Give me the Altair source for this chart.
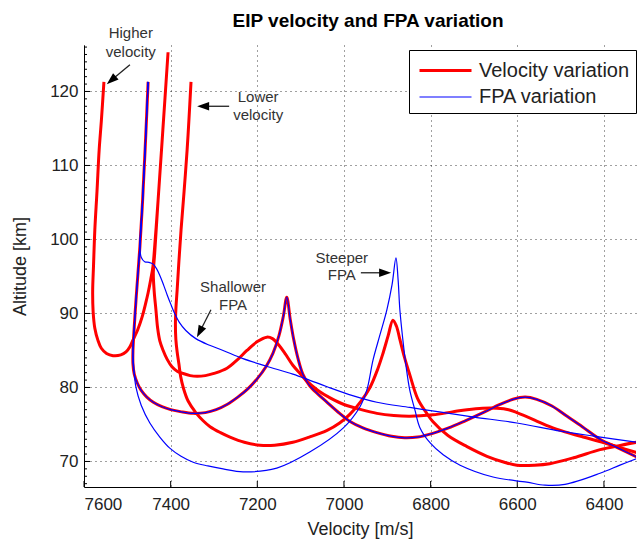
import altair as alt
import pandas as pd

# ---------------- data ----------------
# Velocity variation: higher velocity (skips out to an apogee and re-enters)
hi_v = [7554, 7560, 7565, 7570, 7575, 7578, 7580, 7579, 7575, 7568, 7560, 7548, 7533, 7515, 7503, 7494,
        7487, 7476, 7466, 7458, 7452, 7446, 7441, 7435, 7429, 7418, 7406,
        7418, 7429, 7437, 7440, 7438, 7434, 7430, 7425, 7418, 7408, 7397, 7385, 7372, 7355, 7339, 7320,
        7300, 7270, 7245, 7224, 7200, 7178, 7165, 7150, 7135, 7118, 7100, 7088, 7060, 7032, 7000, 6960,
        6924, 6885, 6848, 6795, 6750, 6716, 6680, 6647, 6620, 6601, 6560, 6525, 6490, 6448, 6410, 6370,
        6324]
hi_a = [121.3, 116.0, 112.1, 106.5, 101.3, 96.5, 93.0, 90.3, 88.0, 86.4, 85.3, 84.6, 84.3, 84.4, 84.8, 85.5,
        86.4, 87.8, 89.5, 91.3, 92.8, 94.6, 96.3, 100.5, 105.3, 114.8, 125.3,
        114.8, 105.3, 98.0, 95.5, 93.0, 90.5, 88.0, 86.3, 85.1, 83.8, 82.8, 82.2, 81.9, 81.6, 81.5, 81.6,
        81.9, 82.6, 83.8, 85.0, 86.2, 86.8, 86.6, 85.7, 84.5, 83.0, 81.8, 81.0, 79.6, 78.6, 77.7, 77.0,
        76.5, 76.2, 76.1, 76.3, 76.7, 77.0, 77.2, 77.2, 77.0, 76.6, 75.6, 74.7, 74.0, 73.3, 72.7, 72.0,
        71.2]

# nominal trajectory (shown in both series)
nom_v = [7452, 7459, 7465, 7471, 7476, 7480, 7484, 7487, 7487, 7484, 7477, 7468, 7455, 7440, 7420, 7400,
         7375, 7348, 7320, 7295, 7270, 7245, 7222, 7200, 7180, 7164, 7150, 7140, 7132, 7124, 7116, 7106,
         7095, 7080, 7060, 7039, 7010, 6986, 6955, 6924, 6890, 6860, 6830, 6795, 6760, 6720, 6679, 6640,
         6610, 6582, 6555, 6520, 6485, 6450, 6409, 6370, 6324]
nom_a = [121.3, 112.1, 105.0, 99.0, 95.0, 91.8, 88.2, 85.0, 83.2, 81.8, 80.6, 79.6, 78.7, 78.0, 77.4, 77.0,
         76.7, 76.5, 76.6, 77.0, 77.7, 78.7, 79.8, 81.2, 82.8, 84.6, 87.0, 89.6, 92.2, 89.2, 86.5, 83.9,
         81.8, 80.3, 79.1, 78.0, 76.5, 75.4, 74.5, 73.9, 73.4, 73.2, 73.3, 73.8, 74.5, 75.5, 76.6, 77.7,
         78.4, 78.7, 78.4, 77.5, 76.1, 74.7, 73.0, 71.9, 70.6]

# Velocity variation: lower velocity
lo_v = [7353, 7358, 7362, 7369, 7376, 7381, 7385, 7388, 7389, 7388, 7385, 7381, 7377, 7370, 7360, 7342,
        7325, 7309, 7285, 7263, 7230, 7194, 7160, 7118, 7080, 7039, 7010, 6986, 6960, 6940, 6922, 6910,
        6898, 6887, 6879, 6871, 6860, 6848, 6830, 6810, 6795, 6760, 6716, 6670, 6630, 6601, 6560, 6525,
        6470, 6409, 6360, 6324]
lo_a = [121.3, 116.0, 112.1, 106.5, 101.3, 97.0, 93.2, 90.5, 88.5, 86.5, 84.8, 83.2, 81.5, 79.8, 78.2, 76.6,
        75.5, 74.7, 73.9, 73.3, 72.6, 72.2, 72.2, 72.6, 73.3, 74.2, 75.2, 76.4, 78.2, 80.0, 82.5, 84.6,
        87.0, 89.1, 88.3, 86.5, 84.0, 81.7, 78.5, 76.6, 75.4, 73.5, 72.0, 70.7, 69.9, 69.5, 69.5, 69.7,
        70.5, 71.6, 72.2, 72.6]

# FPA variation: shallower FPA
sh_v = [7452, 7459, 7465, 7471, 7468, 7460, 7450, 7441, 7432, 7424, 7416, 7408, 7400, 7390, 7380, 7365,
        7342, 7310, 7279, 7233, 7180, 7118, 7080, 7039, 6980, 6924, 6848, 6780, 6700, 6601, 6500, 6420,
        6324]
sh_a = [121.3, 112.1, 105.0, 99.3, 97.6, 97.0, 96.9, 96.7, 96.0, 95.0, 93.8, 92.5, 91.3, 89.9, 88.8, 87.7,
        86.6, 85.7, 85.0, 83.9, 82.9, 81.8, 81.0, 80.1, 78.9, 78.0, 77.3, 76.7, 76.0, 75.2, 74.1, 73.4,
        72.6]

# FPA variation: steeper FPA
st_v = [7452, 7459, 7465, 7471, 7476, 7480, 7484, 7487, 7485, 7480, 7468, 7448, 7425, 7402, 7376, 7348,
        7314, 7279, 7233, 7155, 7078, 7002, 6963, 6947, 6933, 6917, 6901, 6889,
        6880, 6875, 6871, 6864, 6857, 6848, 6836, 6825, 6801, 6771, 6732, 6656, 6578, 6536, 6490, 6409,
        6363, 6324]
st_a = [121.3, 112.1, 105.0, 99.0, 95.0, 91.8, 88.2, 85.0, 82.6, 80.0, 77.6, 75.2, 73.3, 71.8, 70.7, 69.9,
        69.4, 69.0, 68.6, 69.1, 71.3, 74.5, 77.4, 79.7, 83.7, 87.1, 90.5, 93.9,
        97.5, 94.5, 90.5, 86.4, 83.0, 79.6, 76.9, 74.6, 72.5, 70.9, 69.5, 67.9, 67.2, 66.8, 66.9, 68.4,
        69.5, 70.4]

series_names = ["Velocity variation", "FPA variation"]
x_ticks = [7600, 7400, 7200, 7000, 6800, 6600, 6400]
y_ticks = [70, 80, 90, 100, 110, 120]
y_minor = list(range(67, 127))
title_text = ["EIP velocity and FPA variation"]

# annotations
ann_text = ["Higher", "velocity", "Lower", "velocity", "Shallower", "FPA", "Steeper", "FPA"]
ann_v = [7492, 7492, 7198, 7198, 7256, 7256, 7005, 7005]
ann_a = [127.9, 125.3, 119.3, 116.8, 93.6, 91.1, 97.5, 95.2]
arr_v1 = [7494, 7265, 7307, 6961]
arr_a1 = [123.6, 118.0, 90.5, 95.5]
arr_v2 = [7537, 7325, 7333, 6905]
arr_a2 = [121.5, 118.0, 87.5, 95.5]
arr_ang = [229, 270, 207, 90]

# ---------------- frames ----------------
def frame(name, series, vs, al):
    return pd.DataFrame({"curve": name, "series": series, "V": vs, "alt": al, "i": list(range(len(vs)))})

red_df = pd.concat([frame("hi", series_names[0], hi_v, hi_a),
                    frame("nom_r", series_names[0], nom_v, nom_a),
                    frame("lo", series_names[0], lo_v, lo_a)])
blue_df = pd.concat([frame("sh", series_names[1], sh_v, sh_a),
                     frame("st", series_names[1], st_v, st_a),
                     frame("nom_b", series_names[1], nom_v, nom_a)])

FONT = "Liberation Sans"
W, H = 552, 442

xs = alt.Scale(domain=[6326, 7600], reverse=True, nice=False, zero=False)
ys = alt.Scale(domain=[66.55, 126.28], nice=False, zero=False)

x_axis = alt.Axis(values=x_ticks, title="Velocity [m/s]", grid=True, ticks=False, format="d",
                  labelPadding=9, titlePadding=8)
y_axis = alt.Axis(values=y_ticks, title="Altitude [km]", grid=True, ticks=False, format="d",
                  labelPadding=6, titleX=-55, titleY=H / 2)

color = alt.Color("series:N", scale=alt.Scale(domain=series_names, range=["#ff0000", "#0000ff"]),
                  legend=alt.Legend(title=None))
swidth = alt.StrokeWidth("series:N", scale=alt.Scale(domain=series_names, range=[3.0, 1.2]),
                         legend=alt.Legend(title=None))

red = alt.Chart(red_df).mark_line(clip=True, interpolate="catmull-rom").encode(
    x=alt.X("V:Q", scale=xs, axis=x_axis),
    y=alt.Y("alt:Q", scale=ys, axis=y_axis),
    detail="curve:N", order="i:Q", color=color, strokeWidth=swidth)
blue = alt.Chart(blue_df).mark_line(clip=True, interpolate="catmull-rom").encode(
    x=alt.X("V:Q", scale=xs), y=alt.Y("alt:Q", scale=ys),
    detail="curve:N", order="i:Q", color=color, strokeWidth=swidth)

xt = alt.Chart(pd.DataFrame({"V": x_ticks})).mark_rule(color="black", strokeWidth=1).encode(
    x=alt.X("V:Q", scale=xs), y=alt.value(H), y2=alt.value(H - 6))
yt = alt.Chart(pd.DataFrame({"alt": y_ticks})).mark_rule(color="black", strokeWidth=1).encode(
    y=alt.Y("alt:Q", scale=ys), x=alt.value(0), x2=alt.value(6))
ym = alt.Chart(pd.DataFrame({"alt": y_minor})).mark_rule(color="black", strokeWidth=1).encode(
    y=alt.Y("alt:Q", scale=ys), x=alt.value(0), x2=alt.value(3))

ann = alt.Chart(pd.DataFrame({"V": ann_v, "alt": ann_a, "t": ann_text})).mark_text(
    font=FONT, fontSize=15, color="#333333", align="center", baseline="middle").encode(
    x=alt.X("V:Q", scale=xs), y=alt.Y("alt:Q", scale=ys), text="t:N")
arr_df = pd.DataFrame({"V": arr_v1, "alt": arr_a1, "V2": arr_v2, "alt2": arr_a2, "ang": arr_ang})
shafts = alt.Chart(arr_df).mark_rule(color="#222222", strokeWidth=1.3).encode(
    x=alt.X("V:Q", scale=xs), y=alt.Y("alt:Q", scale=ys), x2="V2:Q", y2="alt2:Q")
heads = alt.Chart(arr_df).mark_point(shape="M0,-1L0.7,1L-0.7,1Z", filled=True, color="black",
                                     size=144, opacity=1).encode(
    x=alt.X("V2:Q", scale=xs), y=alt.Y("alt2:Q", scale=ys), angle=alt.Angle("ang:Q", scale=None))

title = alt.Chart(pd.DataFrame({"t": title_text})).mark_text(
    font=FONT, fontSize=19, fontWeight="bold", color="#000000", align="center",
    baseline="alphabetic").encode(text="t:N", x=alt.value(W / 2 + 8), y=alt.value(-18))

chart = alt.layer(ym, yt, xt, red, blue, shafts, heads, ann, title).properties(
    width=W, height=H,
    autosize=alt.AutoSizeParams(type="none"),
    padding={"left": 84, "top": 45, "right": 1, "bottom": 55},
).configure_view(stroke=None).configure_axis(
    labelFont=FONT, labelFontSize=17, labelColor="#222222", titleFont=FONT, titleFontSize=18,
    titleFontWeight="normal", titleColor="#222222", domainColor="#000000", domainWidth=1,
    gridColor="#000000", gridDash=[1, 4], gridOpacity=0.75, gridWidth=1,
).configure_legend(
    orient="none", legendX=325, legendY=5, strokeColor="#000000", fillColor="#ffffff",
    padding=6, labelFont=FONT, labelFontSize=20, labelColor="#222222", symbolType="M-2,0H2",
    symbolSize=676, symbolOffset=16, labelOffset=19, rowPadding=2, cornerRadius=0,
)

chart.save("out.html", embed_options={"renderer": "svg", "actions": False})
